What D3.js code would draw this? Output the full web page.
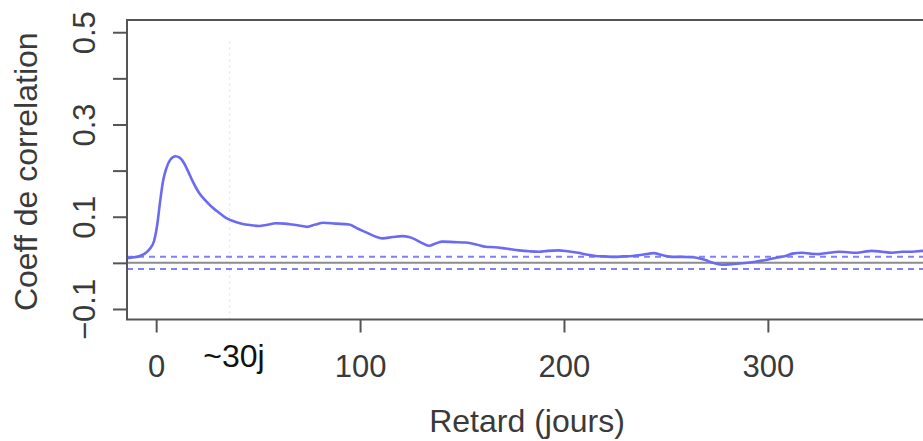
<!DOCTYPE html>
<html>
<head>
<meta charset="utf-8">
<script src="https://cdn.jsdelivr.net/npm/d3@7/dist/d3.min.js"></script>
<style>
  html, body { margin: 0; padding: 0; background: #ffffff; }
  svg { display: block; }
  text { font-family: "Liberation Sans", Arial, Helvetica, sans-serif; }
</style>
</head>
<body>
<svg id="chart" width="923" height="441"></svg>
<script>
// Cross-correlation by lag (days)
const lags = [
  -14.3, -11, -8, -5, -3, -1, 0.5, 2, 3.5, 5, 7, 9.5, 11.5, 13.7, 16, 18, 21, 24,
  27.6, 31, 34, 38, 42, 46, 50.5, 54, 58.7, 63, 66.8, 70, 74, 78, 82, 88, 94.6,
  99, 103, 107, 111, 116, 120.7, 124, 127, 130, 133.8, 137, 140.4, 146, 151.8,
  157, 161.6, 166, 171.4, 178, 183, 187.7, 192, 197.5, 202, 207, 211, 215.5,
  220, 225, 229, 233.5, 239, 244, 248, 253, 258, 263, 266, 269.4, 273, 277.6,
  282, 287.4, 293, 299, 304, 308.7, 312, 316.8, 321, 325, 330, 334.8, 339, 343,
  347, 351, 356, 361, 366, 371, 376, 380
];
const corr = [
  0.010, 0.012, 0.015, 0.022, 0.031, 0.048, 0.082, 0.135, 0.180, 0.205, 0.224,
  0.231, 0.228, 0.216, 0.195, 0.176, 0.152, 0.136, 0.120, 0.108, 0.098, 0.090,
  0.085, 0.082, 0.080, 0.082, 0.086, 0.085, 0.083, 0.081, 0.078, 0.083, 0.087,
  0.085, 0.083, 0.074, 0.066, 0.058, 0.053, 0.056, 0.058, 0.056, 0.051, 0.044,
  0.037, 0.042, 0.046, 0.045, 0.044, 0.040, 0.035, 0.034, 0.031, 0.027, 0.025,
  0.024, 0.026, 0.027, 0.025, 0.022, 0.018, 0.015, 0.014, 0.013, 0.014, 0.015,
  0.018, 0.021, 0.017, 0.013, 0.013, 0.012, 0.010, 0.006, 0.000, -0.004,
  -0.003, -0.001, 0.002, 0.006, 0.011, 0.015, 0.020, 0.022, 0.020, 0.019,
  0.022, 0.024, 0.023, 0.022, 0.024, 0.026, 0.024, 0.022, 0.024, 0.024,
  0.026, 0.026
];
// Significance band (±) around zero
const confLimit = 0.0135;
const xTicks = [0, 100, 200, 300];
const yTicks = [-0.1, 0, 0.1, 0.2, 0.3, 0.4, 0.5];
const yLabelled = [-0.1, 0.1, 0.3, 0.5];
const markLag = 36;
const markLabel = "~30j";
const xTitle = "Retard (jours)";
const yTitle = "Coeff de correlation";

const svg = d3.select("#chart");
const box = { left: 127, top: 20, bottom: 319.5, right: 931 };

const x = d3.scaleLinear().domain([-14.3, 380]).range([box.left, box.right]);
const y = d3.scaleLinear().domain([-0.1228, 0.5265]).range([box.bottom, box.top]);

const ink = "#3a3a3a";
const blue = "#6b6af2";

// faint reference marker
svg.append("line")
  .attr("x1", x(markLag)).attr("x2", x(markLag))
  .attr("y1", y(0.48)).attr("y2", box.bottom)
  .attr("stroke", "#e6e6e6").attr("stroke-width", 1.5)
  .attr("stroke-dasharray", "2,4");

// zero line
svg.append("line")
  .attr("x1", box.left).attr("x2", box.right)
  .attr("y1", y(0)).attr("y2", y(0))
  .attr("stroke", "#8c8c8c").attr("stroke-width", 2);

// confidence band lines
[confLimit, -confLimit].forEach(v => {
  svg.append("line")
    .attr("x1", box.left).attr("x2", box.right)
    .attr("y1", y(v)).attr("y2", y(v))
    .attr("stroke", blue).attr("stroke-opacity", 0.85)
    .attr("stroke-width", 2)
    .attr("stroke-dasharray", "6,5");
});

// correlation curve
const pts = lags.map((l, i) => [l, corr[i]]);
svg.append("path")
  .datum(pts)
  .attr("fill", "none")
  .attr("stroke", blue)
  .attr("stroke-width", 2.6)
  .attr("stroke-linejoin", "round")
  .attr("d", d3.line().x(d => x(d[0])).y(d => y(d[1])).curve(d3.curveMonotoneX));

// plot frame
svg.append("rect")
  .attr("x", box.left).attr("y", box.top)
  .attr("width", box.right - box.left).attr("height", box.bottom - box.top)
  .attr("fill", "none").attr("stroke", "#555").attr("stroke-width", 2);

// x axis
const gx = svg.append("g")
  .attr("transform", `translate(0,${box.bottom})`)
  .call(d3.axisBottom(x).tickValues(xTicks).tickSize(13).tickPadding(22).tickFormat(d3.format("d")));
gx.select(".domain").remove();
gx.selectAll(".tick line").attr("stroke", "#555").attr("stroke-width", 2);
gx.selectAll(".tick text")
  .attr("fill", ink).attr("font-size", 31)
  .attr("dy", "0.71em");

// y axis
const gy = svg.append("g")
  .attr("transform", `translate(${box.left},0)`)
  .call(d3.axisLeft(y).tickValues(yTicks).tickSize(14)
    .tickFormat(d => yLabelled.some(v => Math.abs(v - d) < 1e-9) ? d3.format(".1f")(d) : ""));
gy.select(".domain").remove();
gy.selectAll(".tick line").attr("stroke", "#555").attr("stroke-width", 2);
gy.selectAll(".tick text")
  .attr("fill", ink).attr("font-size", 31)
  .attr("x", null).attr("dy", null)
  .attr("text-anchor", "middle")
  .attr("transform", "translate(-32,0) rotate(-90)");

// marker annotation
svg.append("text")
  .attr("x", 234).attr("y", 367)
  .attr("text-anchor", "middle")
  .attr("font-size", 32)
  .attr("fill", "#111")
  .text(markLabel);

// axis titles
svg.append("text")
  .attr("x", 527).attr("y", 432)
  .attr("text-anchor", "middle")
  .attr("font-size", 32)
  .attr("fill", ink)
  .text(xTitle);

svg.append("text")
  .attr("transform", `translate(37,${(box.top + box.bottom) / 2 + 2}) rotate(-90)`)
  .attr("text-anchor", "middle")
  .attr("font-size", 32)
  .attr("fill", ink)
  .text(yTitle);
</script>
</body>
</html>
